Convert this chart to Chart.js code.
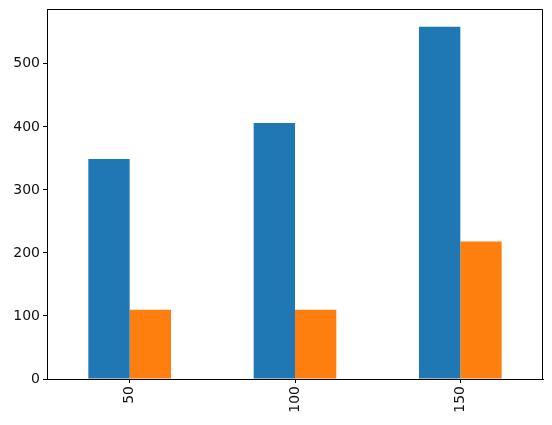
<!DOCTYPE html>
<html>
<head>
<meta charset="utf-8">
<script src="https://cdn.jsdelivr.net/npm/chart.js@4/dist/chart.umd.min.js"></script>
<style>
html,body{margin:0;padding:0;background:#fff;}
canvas{display:block;}
</style>
</head>
<body>
<canvas id="c" width="552" height="425"></canvas>
<script>
const categories = ["50", "100", "150"];
const seriesA = [349, 406, 559];
const seriesB = [110, 110, 218];
const yTicks = [0, 100, 200, 300, 400, 500];
const yMax = 587;

const frame = {
  id: 'frame',
  afterDatasetsDraw(chart) {
    const {ctx, chartArea: a} = chart;
    ctx.save();
    ctx.strokeStyle = '#000';
    ctx.lineWidth = 1;
    ctx.beginPath();
    const t = Math.round(a.top) + 0.5, r = Math.round(a.right) - 0.5;
    ctx.moveTo(Math.round(a.left), t);
    ctx.lineTo(r, t);
    ctx.lineTo(r, Math.round(a.bottom));
    ctx.stroke();
    ctx.restore();
  }
};

const font = {family: 'DejaVu Sans', size: 14};

new Chart(document.getElementById('c'), {
  type: 'bar',
  data: {
    labels: categories,
    datasets: [
      {data: seriesA, backgroundColor: '#1f77b4', borderWidth: 0},
      {data: seriesB, backgroundColor: '#ff7f0e', borderWidth: 0}
    ]
  },
  options: {
    responsive: false,
    animation: false,
    devicePixelRatio: 1,
    layout: {padding: {top: 9, right: 9, left: 0, bottom: 0}},
    plugins: {legend: {display: false}, tooltip: {enabled: false}},
    datasets: {bar: {categoryPercentage: 0.5, barPercentage: 1.0}},
    scales: {
      x: {
        offset: true,
        grid: {display: true, drawOnChartArea: false, tickLength: 4, tickColor: '#000', offset: false},
        border: {display: true, color: '#000'},
        ticks: {color: '#111', font: font, minRotation: 90, maxRotation: 90, padding: 3},
        afterFit(axis) { axis.height = 46; axis.paddingLeft = 0; axis.paddingRight = 0; }
      },
      y: {
        min: 0,
        max: yMax,
        grid: {display: true, drawOnChartArea: false, tickLength: 4, tickColor: '#000'},
        border: {display: true, color: '#000'},
        ticks: {color: '#111', font: font, padding: 3},
        afterBuildTicks(axis) { axis.ticks = yTicks.map(v => ({value: v})); },
        afterFit(axis) { axis.width = 47; axis.paddingTop = 0; axis.paddingBottom = 0; }
      }
    }
  },
  plugins: [frame]
});
</script>
</body>
</html>
